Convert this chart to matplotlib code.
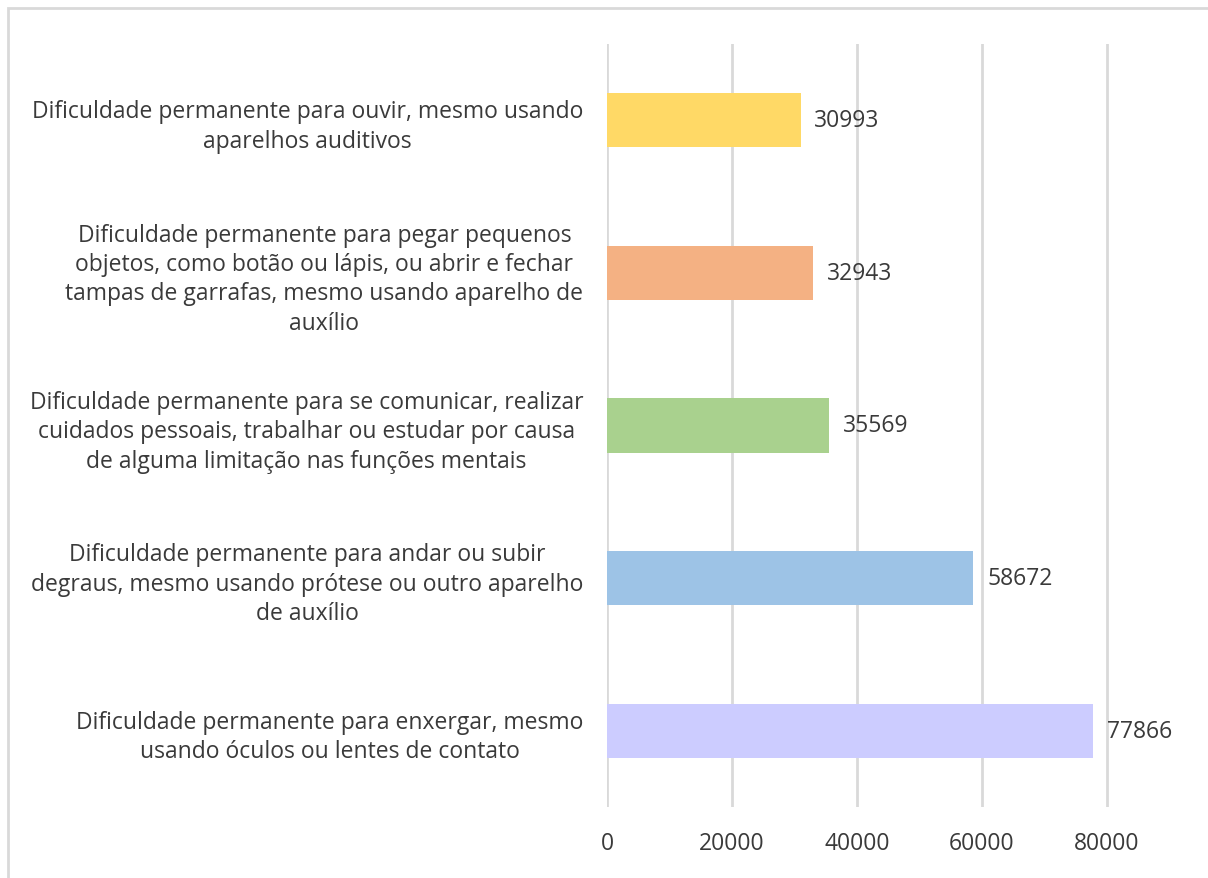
import matplotlib.pyplot as plt
from matplotlib.patches import Rectangle

# categories listed top to bottom as in the chart
categories = [
    "Dificuldade permanente para ouvir, mesmo usando\naparelhos auditivos",
    "Dificuldade permanente para pegar pequenos\nobjetos, como botão ou lápis, ou abrir e fechar\ntampas de garrafas, mesmo usando aparelho de\nauxílio",
    "Dificuldade permanente para se comunicar, realizar\ncuidados pessoais, trabalhar ou estudar por causa\nde alguma limitação nas funções mentais",
    "Dificuldade permanente para andar ou subir\ndegraus, mesmo usando prótese ou outro aparelho\nde auxílio",
    "Dificuldade permanente para enxergar, mesmo\nusando óculos ou lentes de contato",
]
values = [30993, 32943, 35569, 58672, 77866]
colors = ["#FFD966", "#F4B183", "#A9D18E", "#9DC3E6", "#CCCCFF"]
xticks = [0, 20000, 40000, 60000, 80000]

txt = "#3A3A3A"
plt.rcParams['font.family'] = ['Open Sans', 'DejaVu Sans']

W, H = 1208, 879
fig = plt.figure(figsize=(W / 100, H / 100), dpi=100)
ax = fig.add_axes([607 / W, 1 - 808 / H, (1169 - 607) / W, (808 - 45) / H])

# chart border
fig.patches.append(Rectangle((8 / W, -0.1), 1.1, 1 - 9 / H + 0.1,
                             transform=fig.transFigure, fill=False,
                             ec="#D9D9D9", lw=2))

ypos = list(range(len(values)))
ax.barh(ypos, values, height=0.355, color=colors, zorder=3)
ax.set_ylim(len(values) - 0.5, -0.5)
ax.set_xlim(0, 90000)

for y, v in zip(ypos, values):
    ax.text(v + 2200, y, str(v), va="center", ha="left",
            fontsize=16.5, color=txt)

ax.set_xticks(xticks)
ax.set_xticklabels([str(t) for t in xticks], fontsize=16.5, color=txt)
ax.set_yticks(ypos)
ax.set_yticklabels(categories, fontsize=16.5, color=txt, linespacing=1.3)
for t in ax.get_yticklabels():
    t.set_multialignment("center")

ax.tick_params(axis="both", length=0)
ax.tick_params(axis="x", pad=17)
ax.tick_params(axis="y", pad=17)
ax.grid(axis="x", color="#D9D9D9", lw=2, zorder=0)
for s in ax.spines.values():
    s.set_visible(False)

fig.savefig("out.png", dpi=100)
